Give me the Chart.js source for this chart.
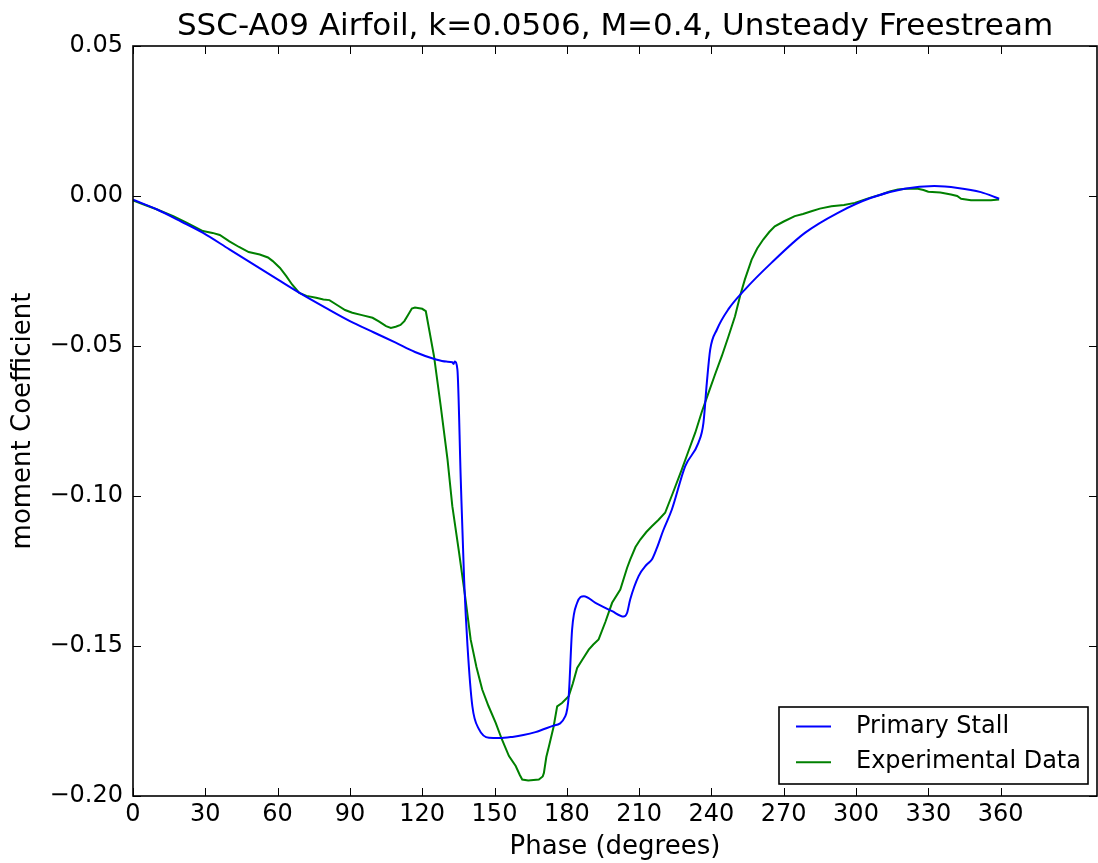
<!DOCTYPE html>
<html>
<head>
<meta charset="utf-8">
<script src="https://cdn.jsdelivr.net/npm/chart.js@4.4.1/dist/chart.umd.min.js"></script>
<style>
  html, body { margin: 0; padding: 0; background: #fff; }
  #wrap { width: 1098px; height: 863px; }
</style>
</head>
<body>
<div id="wrap"><canvas id="grafico" width="1098" height="863"></canvas></div>
<script>
// Datos
const titulo = 'SSC-A09 Airfoil, k=0.0506, M=0.4, Unsteady Freestream';
const xTicks = [0, 30, 60, 90, 120, 150, 180, 210, 240, 270, 300, 330, 360];

const stallPhase = [0, 10, 20, 29.1, 40, 50, 60, 69.1, 80, 90, 100, 109, 117, 125.7, 130, 132.5, 133, 133.5, 134.6, 136,
  137.4, 138.8, 140.8, 143.6, 147.7, 152, 157.4, 162, 167, 173.9, 179.4, 180.8, 182.2, 184.3, 187.1, 191.9, 198.8,
  203.6, 205, 206.3, 209.8, 213, 215.3, 217.4, 220, 223.6, 229.1, 234.6, 236.7, 238.1, 239.5, 242.3, 247, 253.9,
  264.9, 278.8, 292.5, 306.3, 320.1, 332.5, 342.2, 351.8, 359.4];
const stallCm = [-0.0012, -0.0045, -0.0085, -0.0123, -0.0178, -0.0228, -0.0278, -0.0323, -0.0373, -0.0417, -0.0455,
  -0.0489, -0.0520, -0.0545, -0.0552, -0.0554, -0.0560, -0.0552, -0.0578, -0.0945,
  -0.1280, -0.1500, -0.1700, -0.1778, -0.1806, -0.1807, -0.1803, -0.1797, -0.1787, -0.1767, -0.1734, -0.1667,
  -0.1445, -0.1356, -0.1334, -0.1356, -0.1384, -0.1402, -0.1390, -0.1345, -0.1267, -0.1230, -0.1212, -0.1173,
  -0.1115, -0.1045, -0.0901, -0.0823, -0.0756, -0.0623, -0.0512, -0.0445, -0.0378, -0.0312, -0.0223, -0.0123,
  -0.0056, -0.0006, 0.0024, 0.0033, 0.0027, 0.0013, -0.0009];

const expPhase = [0, 5, 10, 16.7, 22, 29, 33, 36, 40, 44, 48, 52.6, 56, 58, 61, 63.6, 66, 69, 72, 76, 79, 81.5, 85, 88,
  91, 95, 99.4, 102, 105, 107, 109, 111, 112.6, 114, 115.7, 117, 120, 121.5, 123, 124.9, 127.7, 130.5, 132.5, 135.3,
  137.8, 140.1, 142.5, 144.9, 147.5, 150.5, 153, 156, 158.8, 160.5, 161.5, 164, 168.4, 170, 170.5, 171.5, 172.6,
  174.5, 176, 178, 180.8, 182.5, 184.3, 186.5, 189.1, 191, 193.2, 196, 198.8, 202.2, 205, 206.3, 208.5, 210.5, 213,
  215.3, 218, 220.8, 224, 227.7, 230.5, 233.3, 236, 238.8, 241.5, 244.3, 247, 249.8, 252, 253.9, 256.7, 259, 261.5,
  264, 266.3, 270, 274.6, 278, 281.5, 285, 289.8, 295, 299.5, 305, 310.5, 314, 317.4, 321, 325.7, 328, 330, 335,
  339.4, 342, 343.6, 347.7, 352, 356, 359.4];
const expCm = [-0.0015, -0.0030, -0.0045, -0.0067, -0.0088, -0.0117, -0.0123, -0.0130, -0.0151, -0.0170, -0.0187,
  -0.0195, -0.0205, -0.0217, -0.0240, -0.0267, -0.0295, -0.0323, -0.0333, -0.0339, -0.0345, -0.0347, -0.0365,
  -0.0380, -0.0389, -0.0397, -0.0406, -0.0418, -0.0434, -0.0440, -0.0436, -0.0430, -0.0417, -0.0398, -0.0375,
  -0.0372, -0.0376, -0.0384, -0.0450, -0.0534, -0.0701, -0.0878, -0.1034, -0.1189, -0.1334, -0.1478, -0.1570,
  -0.1645, -0.1700, -0.1756, -0.1810, -0.1867, -0.1900, -0.1930, -0.1945, -0.1948, -0.1945, -0.1935, -0.1923,
  -0.1870, -0.1834, -0.1770, -0.1701, -0.1690, -0.1667, -0.1625, -0.1573, -0.1545, -0.1512, -0.1495, -0.1478,
  -0.1420, -0.1356, -0.1312, -0.1240, -0.1212, -0.1170, -0.1145, -0.1120, -0.1101, -0.1080, -0.1056, -0.0990,
  -0.0912, -0.0850, -0.0789, -0.0720, -0.0656, -0.0595, -0.0534, -0.0470, -0.0401, -0.0330, -0.0278, -0.0212,
  -0.0175, -0.0145, -0.0120, -0.0101, -0.0085, -0.0067, -0.0060, -0.0051, -0.0042, -0.0034, -0.0030, -0.0023,
  -0.0008, 0.0005, 0.0015, 0.0022, 0.0024, 0.0024, 0.0020, 0.0014, 0.0012, 0.0005, 0.0000, -0.0009, -0.0014,
  -0.0014, -0.0014, -0.0012];

const FUENTE = "'DejaVu Sans', 'Bitstream Vera Sans', sans-serif";

// Marco, ticks hacia adentro, título y leyenda al estilo matplotlib
const estiloMpl = {
  id: 'estiloMpl',
  afterDraw(chart) {
    const {ctx, chartArea: a, scales} = chart;
    ctx.save();
    ctx.strokeStyle = '#000';
    ctx.lineWidth = 1;
    const largo = 8;
    xTicks.forEach(v => {
      const px = Math.round(scales.x.getPixelForValue(v)) + 0.5;
      ctx.beginPath();
      ctx.moveTo(px, a.bottom); ctx.lineTo(px, a.bottom - largo);
      ctx.moveTo(px, a.top); ctx.lineTo(px, a.top + largo);
      ctx.stroke();
    });
    scales.y.ticks.forEach(t => {
      const py = Math.round(scales.y.getPixelForValue(t.value)) + 0.5;
      ctx.beginPath();
      ctx.moveTo(a.left, py); ctx.lineTo(a.left + largo, py);
      ctx.moveTo(a.right, py); ctx.lineTo(a.right - largo, py);
      ctx.stroke();
    });
    ctx.lineWidth = 1.6;
    ctx.strokeRect(a.left, a.top, a.right - a.left, a.bottom - a.top);

    // título
    ctx.fillStyle = '#000';
    ctx.font = '31px ' + FUENTE;
    ctx.textAlign = 'center';
    ctx.textBaseline = 'alphabetic';
    ctx.fillText(titulo, (a.left + a.right) / 2, a.top - 11);

    // leyenda abajo a la derecha
    const ancho = 309, alto = 77;
    const bx = a.right - 9 - ancho, by = a.bottom - 12 - alto;
    ctx.fillStyle = '#fff';
    ctx.fillRect(bx, by, ancho, alto);
    ctx.lineWidth = 1.6;
    ctx.strokeStyle = '#000';
    ctx.strokeRect(bx, by, ancho, alto);
    ctx.font = '24px ' + FUENTE;
    ctx.textAlign = 'left';
    ctx.textBaseline = 'middle';
    chart.data.datasets.forEach((ds, i) => {
      const cy = by + 19.5 + i * 35.7;
      ctx.strokeStyle = ds.borderColor;
      ctx.lineWidth = 2;
      ctx.beginPath();
      ctx.moveTo(bx + 17, cy); ctx.lineTo(bx + 52, cy);
      ctx.stroke();
      ctx.fillStyle = '#000';
      ctx.fillText(ds.label, bx + 77, cy);
    });
    ctx.restore();
  }
};

const aPuntos = (xs, ys) => xs.map((x, i) => ({x, y: ys[i]}));

new Chart(document.getElementById('grafico'), {
  type: 'scatter',
  data: {
    datasets: [
      {
        label: 'Primary Stall',
        data: aPuntos(stallPhase, stallCm),
        borderColor: '#0000ff',
        backgroundColor: '#0000ff',
        borderWidth: 2,
        showLine: true,
        pointRadius: 0,
        cubicInterpolationMode: 'monotone'
      },
      {
        label: 'Experimental Data',
        data: aPuntos(expPhase, expCm),
        borderColor: '#008000',
        backgroundColor: '#008000',
        borderWidth: 2,
        showLine: true,
        pointRadius: 0,
        tension: 0
      }
    ]
  },
  options: {
    responsive: false,
    animation: false,
    devicePixelRatio: 1,
    layout: { padding: { top: 46, right: 1, bottom: 0, left: 0 } },
    plugins: {
      legend: { display: false },
      title: { display: false },
      tooltip: { enabled: false }
    },
    scales: {
      x: {
        type: 'linear',
        min: 0,
        max: 400,
        afterBuildTicks: (s) => { s.ticks = xTicks.map(v => ({value: v})); },
        afterFit: (s) => { s.height = 863 - 796; },
        grid: { display: false, drawTicks: false },
        border: { display: false },
        ticks: {
          color: '#000',
          padding: 4,
          maxRotation: 0,
          autoSkip: false,
          font: { family: FUENTE, size: 24 },
          callback: (v) => String(v)
        },
        title: {
          display: true,
          text: 'Phase (degrees)',
          color: '#000',
          font: { family: FUENTE, size: 26 },
          padding: { top: 0, bottom: 0 }
        }
      },
      y: {
        min: -0.2,
        max: 0.05,
        afterFit: (s) => { s.width = 133; },
        grid: { display: false, drawTicks: false },
        border: { display: false },
        ticks: {
          stepSize: 0.05,
          color: '#000',
          padding: 10,
          font: { family: FUENTE, size: 24 },
          callback: (v) => {
            const t = Math.abs(v).toFixed(2);
            return v < -1e-9 ? '\u2212' + t : t;
          }
        },
        title: {
          display: true,
          text: 'moment Coefficient',
          color: '#000',
          font: { family: FUENTE, size: 26 },
          padding: { top: 8, bottom: 0 }
        }
      }
    }
  },
  plugins: [estiloMpl]
});
</script>
</body>
</html>
